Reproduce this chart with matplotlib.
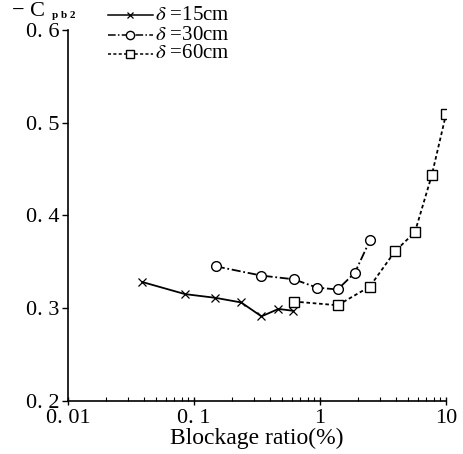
import matplotlib
matplotlib.use("Agg")
import matplotlib.pyplot as plt
from matplotlib.lines import Line2D
from matplotlib.ticker import LogLocator, NullFormatter

plt.rcParams['font.family'] = ['Liberation Serif', 'DejaVu Serif']
plt.rcParams['mathtext.fontset'] = 'stix'

# data
x15 = [0.039, 0.085, 0.148, 0.237, 0.343, 0.468, 0.614]
y15 = [0.328, 0.315, 0.311, 0.306, 0.291, 0.299, 0.297]
x30 = [0.149, 0.343, 0.62, 0.948, 1.38, 1.89, 2.49]
y30 = [0.345, 0.335, 0.331, 0.322, 0.320, 0.338, 0.373]
x60 = [0.62, 1.38, 2.48, 3.93, 5.67, 7.7, 10.0]
y60 = [0.307, 0.303, 0.323, 0.361, 0.382, 0.443, 0.509]

labels = ["$\\delta$ =15cm", "$\\delta$ =30cm", "$\\delta$ =60cm"]
xticks = [0.01, 0.1, 1, 10]
xticklabels = ["0. 01", "0. 1", "1", "10"]
yticks = [0.2, 0.3, 0.4, 0.5, 0.6]
yticklabels = ["0. 2", "0. 3", "0. 4", "0. 5", "0. 6"]

W, H = 464, 454
fig = plt.figure(figsize=(W / 100, H / 100), dpi=100)
ax = fig.add_axes([68 / W, 1 - 400.7 / H, (446 - 68) / W, (400.7 - 30) / H])

styles = [
    dict(ls='-', marker='x', ms=5.5, mew=0.9),
    dict(ls=(0, (5, 1.5, 1, 1.5)), marker='o', ms=7, mew=1.0, mfc='white'),
    dict(ls=(0, (2, 1.5)), marker='s', ms=6.5, mew=1.0, mfc='white'),
]
for xs, ys, st in zip([x15, x30, x60], [y15, y30, y60], styles):
    ax.plot(xs, ys, color='black', lw=1.3, mec='black', **st)

ax.set_xscale('log')
ax.set_xlim(0.01, 10)
ax.set_ylim(0.2, 0.6)
ax.set_xticks(xticks)
ax.set_xticklabels(xticklabels)
ax.xaxis.set_minor_locator(LogLocator(base=10, subs=range(2, 10)))
ax.xaxis.set_minor_formatter(NullFormatter())
ax.set_yticks(yticks)
ax.set_yticklabels(yticklabels)
for s in ['top', 'right']:
    ax.spines[s].set_visible(False)
for s in ['left', 'bottom']:
    ax.spines[s].set_linewidth(1.2)
ax.tick_params(axis='x', which='major', direction='inout', length=6, width=1.0,
               labelsize=16, pad=3)
ax.tick_params(axis='x', which='minor', direction='in', length=3, width=0.8)
ax.tick_params(axis='y', which='major', direction='out', length=4, width=1.0,
               labelsize=16, pad=2)
ax.set_xlabel("Blockage ratio(%)", fontsize=17, labelpad=0)

# y axis label at top-left
fig.text(12 / W, 1 - 12 / H, "− C", fontsize=16, va='center', ha='left')
fig.text(52 / W, 1 - 16 / H, "p b 2", fontsize=8, va='center', ha='left',
         fontweight='bold')

# manual legend
rows = [15, 35, 54]
for yy, st, lab in zip(rows, styles, labels):
    yf = 1 - yy / H
    st2 = dict(st)
    st2['ms'] = st['ms'] * 0.85
    ln = Line2D([108 / W, 130 / W, 153 / W], [yf, yf, yf], transform=fig.transFigure,
                color='black', lw=1.1, mec='black', markevery=[1], **st2)
    fig.add_artist(ln)
    fig.text(155 / W, yf, lab, fontsize=15, va='center', ha='left')

fig.savefig("out.png", dpi=100)
